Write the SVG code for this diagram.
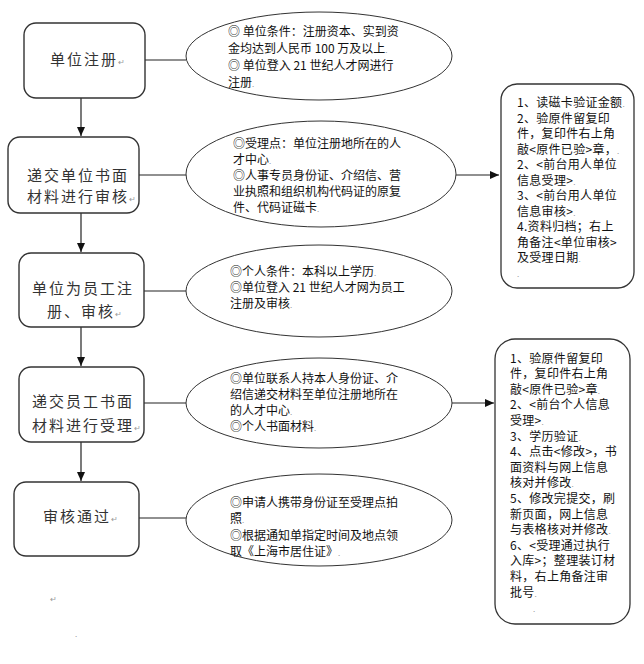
<svg xmlns="http://www.w3.org/2000/svg" width="644" height="664" viewBox="0 0 644 664">
<defs>
<marker id="ah" markerWidth="10" markerHeight="10" refX="9" refY="5" orient="auto" markerUnits="userSpaceOnUse">
<path d="M0,1 L9,5 L0,9 Z" fill="#111"/>
</marker>
<style>
.box{fill:#fff;stroke:#333;stroke-width:1.4}
.ell{fill:#fff;stroke:#333;stroke-width:1}
.side{fill:#fff;stroke:#333;stroke-width:1.3}
.lt{font-family:"Noto Sans CJK SC","Noto Sans CJK TC",sans-serif;font-size:15px;fill:#333;letter-spacing:2px}
.et{font-family:"Noto Sans CJK SC","Noto Sans CJK TC",sans-serif;font-size:12px;fill:#111}
.rt{font-family:"Noto Sans CJK SC","Noto Sans CJK TC",sans-serif;font-size:12px;fill:#111;letter-spacing:0.3px}
.pm{font-size:8px;fill:#999;letter-spacing:0}
.ln{stroke:#222;stroke-width:1.2;fill:none}
</style>
</defs>
<rect width="644" height="664" fill="#fff"/>

<g id="connectors">
<line class="ln" x1="81" y1="98" x2="81" y2="136" marker-end="url(#ah)"/>
<line class="ln" x1="81" y1="213" x2="81" y2="252" marker-end="url(#ah)"/>
<line class="ln" x1="81" y1="327" x2="81" y2="366" marker-end="url(#ah)"/>
<line class="ln" x1="81" y1="442" x2="81" y2="481" marker-end="url(#ah)"/>
<line class="ln" x1="145" y1="60" x2="186" y2="60"/>
<line class="ln" x1="139" y1="175" x2="187" y2="175"/>
<line class="ln" x1="144" y1="291" x2="186" y2="291"/>
<line class="ln" x1="144" y1="403" x2="186" y2="403"/>
<line class="ln" x1="139" y1="518" x2="186" y2="518"/>
<line class="ln" x1="456" y1="175" x2="499" y2="175" marker-end="url(#ah)"/>
<line class="ln" x1="451" y1="403" x2="494" y2="403" marker-end="url(#ah)"/>
</g>

<g id="step1">
<rect class="box" x="24" y="23" width="121" height="75" rx="12"/>
<text class="lt" x="50" y="65">单位注册<tspan class="pm">↵</tspan></text>
</g>
<g id="step2">
<rect class="box" x="8" y="137" width="131" height="76" rx="12"/>
<text class="lt" x="27" y="181">递交单位书面</text>
<text class="lt" x="27" y="202">材料进行审核<tspan class="pm">↵</tspan></text>
</g>
<g id="step3">
<rect class="box" x="19" y="253" width="125" height="74" rx="12"/>
<text class="lt" x="32" y="294">单位为员工注</text>
<text class="lt" x="47" y="317">册、审核<tspan class="pm">↵</tspan></text>
</g>
<g id="step4">
<rect class="box" x="19" y="367" width="125" height="75" rx="12"/>
<text class="lt" x="32" y="407">递交员工书面</text>
<text class="lt" x="32" y="431">材料进行受理<tspan class="pm">↵</tspan></text>
</g>
<g id="step5">
<rect class="box" x="14" y="482" width="125" height="74" rx="12"/>
<text class="lt" x="43" y="522">审核通过<tspan class="pm">↵</tspan></text>
</g>

<g id="cond1">
<ellipse class="ell" cx="319" cy="56" rx="133" ry="44"/>
<text class="et" x="228" y="36">◎ 单位条件：注册资本、实到资</text>
<text class="et" x="228" y="53">金均达到人民币 100 万及以上<tspan class="pm">.</tspan></text>
<text class="et" x="228" y="70">◎ 单位登入 21 世纪人才网进行</text>
<text class="et" x="228" y="87">注册<tspan class="pm">.</tspan></text>
</g>
<g id="cond2">
<ellipse class="ell" cx="321" cy="174" rx="135" ry="53"/>
<text class="et" x="233" y="148">◎受理点：单位注册地所在的人</text>
<text class="et" x="233" y="164">才中心<tspan class="pm">.</tspan></text>
<text class="et" x="233" y="180">◎人事专员身份证、介绍信、营</text>
<text class="et" x="233" y="196">业执照和组织机构代码证的原复</text>
<text class="et" x="233" y="212">件、代码证磁卡<tspan class="pm">.</tspan></text>
</g>
<g id="cond3">
<ellipse class="ell" cx="319" cy="291" rx="133" ry="46"/>
<text class="et" x="230" y="276">◎个人条件：本科以上学历<tspan class="pm">.</tspan></text>
<text class="et" x="230" y="292">◎单位登入 21 世纪人才网为员工</text>
<text class="et" x="230" y="308">注册及审核<tspan class="pm">.</tspan></text>
</g>
<g id="cond4">
<ellipse class="ell" cx="319" cy="403" rx="133" ry="45"/>
<text class="et" x="230" y="383">◎单位联系人持本人身份证、介</text>
<text class="et" x="230" y="399">绍信递交材料至单位注册地所在</text>
<text class="et" x="230" y="415">的人才中心<tspan class="pm">.</tspan></text>
<text class="et" x="230" y="431">◎个人书面材料<tspan class="pm">.</tspan></text>
</g>
<g id="cond5">
<ellipse class="ell" cx="319" cy="520" rx="133" ry="46"/>
<text class="et" x="230" y="507">◎申请人携带身份证至受理点拍</text>
<text class="et" x="230" y="523">照<tspan class="pm">.</tspan></text>
<text class="et" x="230" y="540">◎根据通知单指定时间及地点领</text>
<text class="et" x="230" y="556">取《上海市居住证》<tspan class="pm">.</tspan></text>
</g>

<g id="proc1">
<rect class="side" x="501" y="84" width="133" height="204" rx="16"/>
<text class="rt" x="517" y="107">1、读磁卡验证金额<tspan class="pm">.</tspan></text>
<text class="rt" x="517" y="122.5">2、验原件留复印</text>
<text class="rt" x="517" y="138">件，复印件右上角</text>
<text class="rt" x="517" y="153.5">敲&lt;原件已验&gt;章，<tspan class="pm">.</tspan></text>
<text class="rt" x="517" y="169">2、&lt;前台用人单位</text>
<text class="rt" x="517" y="184.5">信息受理&gt;<tspan class="pm">.</tspan></text>
<text class="rt" x="517" y="200">3、&lt;前台用人单位</text>
<text class="rt" x="517" y="215.5">信息审核&gt;<tspan class="pm">.</tspan></text>
<text class="rt" x="517" y="231">4.资料归档；右上</text>
<text class="rt" x="517" y="246.5">角备注&lt;单位审核&gt;</text>
<text class="rt" x="517" y="262">及受理日期<tspan class="pm">.</tspan></text>
<text class="rt pm" x="517" y="277">.</text>
</g>
<g id="proc2">
<rect class="side" x="495" y="339" width="135" height="285" rx="20"/>
<text class="rt" x="510" y="362.5">1、验原件留复印</text>
<text class="rt" x="510" y="378.1">件，复印件右上角</text>
<text class="rt" x="510" y="393.7">敲&lt;原件已验&gt;章<tspan class="pm">.</tspan></text>
<text class="rt" x="510" y="409.3">2、&lt;前台个人信息</text>
<text class="rt" x="510" y="424.9">受理&gt;<tspan class="pm">.</tspan></text>
<text class="rt" x="510" y="440.5">3、学历验证<tspan class="pm">.</tspan></text>
<text class="rt" x="510" y="456.1">4、点击&lt;修改&gt;，书</text>
<text class="rt" x="510" y="471.7">面资料与网上信息</text>
<text class="rt" x="510" y="487.3">核对并修改<tspan class="pm">.</tspan></text>
<text class="rt" x="510" y="502.9">5、修改完提交，刷</text>
<text class="rt" x="510" y="518.5">新页面，网上信息</text>
<text class="rt" x="510" y="534.1">与表格核对并修改<tspan class="pm">.</tspan></text>
<text class="rt" x="510" y="549.7">6、&lt;受理通过执行</text>
<text class="rt" x="510" y="565.3">入库&gt;；整理装订材</text>
<text class="rt" x="510" y="580.9">料，右上角备注审</text>
<text class="rt" x="510" y="596.5">批号<tspan class="pm">.</tspan></text>
<text class="rt pm" x="533" y="612">.</text>
</g>

<text class="lt pm" x="50" y="602">↵</text>
<text class="lt pm" x="75" y="637">.</text>
</svg>
